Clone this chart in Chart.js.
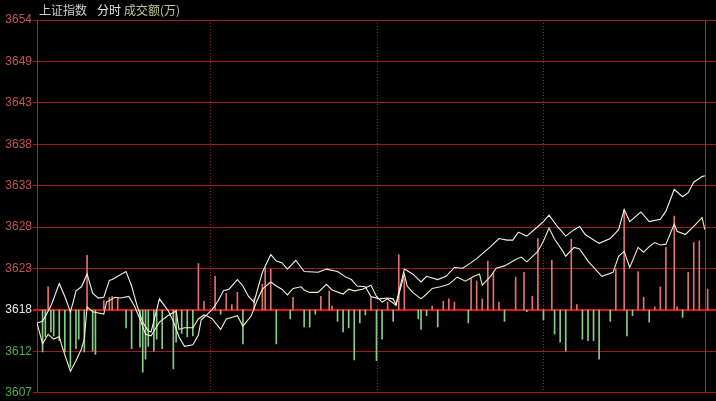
<!DOCTYPE html>
<html>
<head>
<meta charset="utf-8">
<script src="https://cdn.jsdelivr.net/npm/chart.js@4"></script>
<style>
  html, body { margin: 0; padding: 0; background: #000; }
  canvas { display: block; }
</style>
</head>
<body>
<canvas id="c" width="716" height="401"></canvas>
<script>
// 上证指数 分时 — minute index (0 = 9:30)
const baseValue = 3618.12;
const tickValues = [3607.82, 3612.97, 3618.12, 3623.27, 3628.42, 3633.57, 3638.72, 3643.87, 3649.02, 3654.17];
const tickLabels = ['3607', '3612', '3618', '3623', '3628', '3633', '3638', '3643', '3649', '3654'];
const dividerMinutes = [62, 122, 182];
const closeMinute = 240;

// white line
const uMin = [0,2,5,8,10,12,13,14,16,18,20,22,24,26,27,29,32,34,36,38,40,41,44,47,49,51,53,56,58,59,61,63,65,67,69,72,74,76,78,80,81,84,86,88,90,93,96,101,104,108,111,113,115,118,120,123,126,128,129,132,135,138,140,144,147,150,153,156,158,161,163,166,169,171,173,176,180,182,184,187,190,193,195,197,202,206,209,211,213,217,220,224,226,229,232,234,236,239,240];
const uVal = [3616.5,3616.7,3618.6,3621.4,3619.8,3617.9,3619.1,3620.5,3621.0,3622.6,3620.2,3619.6,3619.7,3621.8,3621.9,3622.3,3622.9,3621.1,3618.6,3616.6,3615.5,3615.4,3619.5,3618.1,3616.7,3614.8,3613.6,3613.8,3615.0,3616.9,3617.5,3618.2,3619.2,3620.5,3620.7,3621.9,3621.1,3619.8,3619.1,3621.6,3622.8,3625.0,3624.2,3624.0,3623.2,3624.3,3622.9,3622.8,3623.2,3622.9,3622.2,3621.9,3621.1,3621.0,3619.8,3619.5,3619.6,3619.5,3618.8,3623.2,3622.6,3621.6,3622.3,3621.9,3622.3,3623.4,3623.3,3624.0,3624.5,3625.4,3626.0,3627.0,3626.8,3626.8,3627.8,3627.3,3628.5,3629.1,3629.9,3628.5,3627.3,3628.1,3628.5,3627.5,3626.4,3627.0,3628.1,3630.6,3629.1,3630.3,3629.1,3629.4,3630.4,3633.1,3632.2,3632.7,3634.0,3634.7,3634.8];

// yellow line
const lMin = [0,2,4,6,8,9,12,14,16,17,18,20,24,25,28,30,33,35,37,39,41,44,47,50,51,53,56,58,60,61,63,66,68,69,72,74,77,79,81,84,86,88,90,92,95,96,98,101,104,106,110,112,114,117,120,122,124,126,129,132,133,135,138,140,142,145,148,151,154,157,159,160,163,165,168,172,174,176,180,182,184,186,189,190,193,195,198,203,207,209,211,213,216,218,220,222,224,226,229,230,233,236,239,240];
const lVal = [3616.5,3613.9,3615.1,3614.5,3614.8,3613.6,3610.5,3611.8,3613.3,3614.5,3618.5,3617.9,3617.6,3619.1,3619.7,3619.6,3619.8,3618.6,3617.0,3615.1,3614.9,3616.6,3617.4,3618.0,3615.7,3615.9,3615.9,3617.0,3617.5,3617.4,3617.0,3615.7,3617.0,3617.1,3617.4,3616.1,3617.4,3619.2,3620.7,3621.6,3621.1,3620.7,3620.0,3620.8,3621.0,3620.6,3620.3,3620.3,3621.3,3620.6,3620.1,3620.7,3620.5,3620.7,3621.2,3619.8,3619.1,3619.5,3618.7,3622.6,3621.1,3620.3,3619.5,3620.1,3620.8,3621.0,3621.3,3622.2,3621.7,3622.3,3622.6,3621.2,3622.3,3623.3,3623.6,3624.4,3624.7,3624.1,3625.4,3626.7,3628.3,3626.9,3625.4,3624.8,3625.9,3625.7,3624.2,3622.3,3622.8,3624.8,3625.4,3623.4,3625.9,3625.3,3626.0,3626.5,3626.2,3626.3,3628.8,3627.9,3627.5,3628.5,3629.6,3628.1];

// red / green bars around the base line
const barMin = [2,3,4,5,6,8,10,12,14,15,17,18,20,21,24,26,27,29,32,34,37,38,39,40,42,43,45,49,50,52,54,56,58,60,64,66,68,70,72,74,78,81,82,84,86,91,92,96,98,100,102,105,106,108,110,112,114,116,118,120,122,124,126,128,130,132,137,138,140,142,144,146,148,150,155,156,158,160,162,164,166,168,172,175,176,178,180,182,185,186,188,190,192,194,196,198,200,202,206,208,211,212,214,216,218,220,222,224,226,229,230,232,234,236,238,241];
const barVal = [3612.9,3614.8,3621.0,3615.4,3614.9,3614.3,3612.9,3611.0,3613.3,3614.5,3612.9,3624.9,3613.0,3612.6,3619.3,3619.7,3619.8,3619.7,3615.9,3613.3,3613.5,3610.4,3612.0,3613.6,3613.0,3614.5,3613.3,3610.8,3614.1,3615.2,3614.8,3614.9,3623.9,3619.2,3622.3,3617.6,3620.2,3618.8,3620.3,3613.9,3619.5,3621.3,3623.4,3623.2,3613.9,3617.0,3619.7,3616.0,3616.0,3617.6,3619.8,3620.5,3618.6,3616.7,3615.4,3615.9,3611.9,3616.5,3617.5,3619.7,3611.8,3614.5,3619.1,3616.7,3625.0,3622.0,3617.0,3615.7,3617.4,3618.6,3616.0,3619.2,3619.5,3619.1,3616.5,3622.0,3621.7,3619.5,3624.2,3622.7,3619.1,3616.7,3622.2,3622.8,3617.9,3619.8,3627.0,3616.9,3624.3,3615.1,3614.1,3613.0,3626.9,3618.8,3614.5,3614.3,3614.3,3612.0,3616.7,3623.2,3630.6,3614.9,3617.4,3622.9,3619.7,3616.6,3618.5,3621.0,3625.9,3629.8,3618.5,3617.2,3622.8,3626.5,3626.7,3620.7];

const RED = '#a81818';

const bgPlugin = {
  id: 'bg',
  beforeDraw(chart) {
    const c = chart.ctx;
    c.save();
    c.fillStyle = '#000';
    c.fillRect(0, 0, chart.width, chart.height);
    c.restore();
  }
};

// dotted hour lines and the closing line
const dividerPlugin = {
  id: 'dividers',
  beforeDatasetsDraw(chart) {
    const c = chart.ctx, x = chart.scales.x, a = chart.chartArea;
    c.save();
    c.strokeStyle = '#b02020';
    c.lineWidth = 1;
    c.setLineDash([1, 2]);
    dividerMinutes.forEach(m => {
      const px = Math.round(x.getPixelForValue(m)) + 0.5;
      c.beginPath(); c.moveTo(px, a.top); c.lineTo(px, a.bottom); c.stroke();
    });
    c.setLineDash([]);
    c.strokeStyle = '#c02424';
    const px = Math.round(x.getPixelForValue(closeMinute)) + 0.5;
    c.beginPath(); c.moveTo(px, a.top); c.lineTo(px, a.bottom); c.stroke();
    c.restore();
  }
};

const titlePlugin = {
  id: 'head',
  afterDraw(chart) {
    const c = chart.ctx;
    c.save();
    c.font = '12px "Noto Sans CJK SC"';
    c.textBaseline = 'middle';
    c.fillStyle = '#cfcfcf';
    c.fillText('上证指数', 39, 10);
    c.fillStyle = '#e6e6e6';
    c.fillText('分时', 97, 10);
    c.fillStyle = '#c4c49a';
    c.fillText('成交额(万)', 124, 10);
    c.restore();
  }
};

new Chart(document.getElementById('c'), {
  type: 'bar',
  data: {
    datasets: [
      {
        type: 'line',
        data: uMin.map((m, i) => ({ x: m, y: uVal[i] })),
        borderColor: '#f2f2f2',
        borderWidth: 1.1,
        pointRadius: 0,
        tension: 0,
        order: 0
      },
      {
        type: 'line',
        data: lMin.map((m, i) => ({ x: m, y: lVal[i] })),
        borderColor: '#f0f0c4',
        borderWidth: 1.1,
        pointRadius: 0,
        tension: 0,
        order: 0
      },
      {
        type: 'bar',
        data: barMin.map((m, i) => ({ x: m, y: [baseValue, barVal[i]] })),
        backgroundColor: barVal.map(v => v >= baseValue ? '#e27070' : '#86cc86'),
        barThickness: 1,
        order: 1
      }
    ]
  },
  options: {
    responsive: false,
    animation: false,
    devicePixelRatio: 1,
    layout: { padding: { top: 20, bottom: 7, left: 0, right: 0 } },
    plugins: { legend: { display: false }, tooltip: { enabled: false } },
    scales: {
      x: {
        type: 'linear',
        min: 0,
        max: 244,
        offset: false,
        display: false
      },
      y: {
        min: tickValues[0],
        max: tickValues[tickValues.length - 1],
        afterBuildTicks: s => { s.ticks = tickValues.map(v => ({ value: v })); },
        afterFit: s => { s.width = 37; },
        border: { display: true, color: '#b02020', width: 1 },
        grid: {
          color: ctx => ctx.index === 2 ? '#e01010' : RED,
          lineWidth: ctx => ctx.index === 2 ? 2 : 1,
          tickLength: 4
        },
        ticks: {
          padding: 1,
          font: { family: '"Liberation Sans", Arial', size: 12 },
          color: ctx => ctx.index < 2 ? '#4fae4f' : (ctx.index === 2 ? '#e8e8e8' : '#c05454'),
          callback: (v, i) => tickLabels[i]
        }
      }
    }
  },
  plugins: [bgPlugin, dividerPlugin, titlePlugin]
});
</script>
</body>
</html>
